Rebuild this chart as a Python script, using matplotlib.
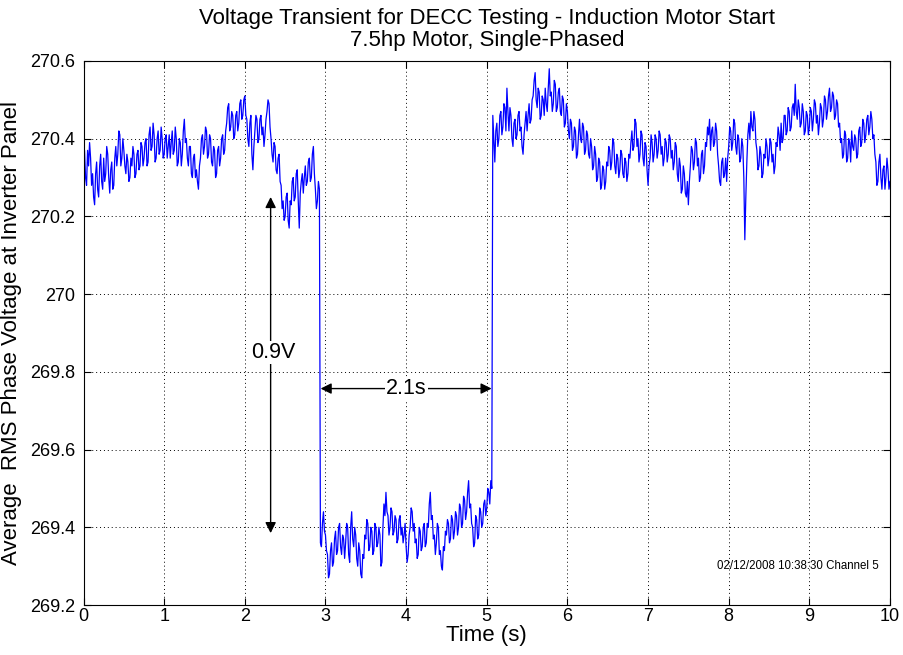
import numpy as np
import matplotlib
matplotlib.use("Agg")
import matplotlib.pyplot as plt

plt.rcParams['font.family'] = ['Liberation Sans', 'DejaVu Sans']

# RMS phase voltage sampled every 12.5 ms over the 10 s record (one row = 0.25 s)
dt = 0.0125
voltage = [
    270.34, 270.37, 270.30, 270.28, 270.37, 270.33, 270.39, 270.35, 270.28, 270.31, 270.25, 270.23, 270.31, 270.34, 270.27, 270.25, 270.33, 270.36, 270.29, 270.27,
    270.35, 270.29, 270.31, 270.38, 270.36, 270.30, 270.26, 270.32, 270.34, 270.27, 270.28, 270.35, 270.38, 270.33, 270.36, 270.42, 270.41, 270.33, 270.35, 270.40,
    270.37, 270.33, 270.31, 270.36, 270.34, 270.29, 270.30, 270.35, 270.33, 270.38, 270.36, 270.30, 270.31, 270.36, 270.37, 270.32, 270.33, 270.39, 270.38, 270.33,
    270.35, 270.39, 270.40, 270.33, 270.34, 270.41, 270.43, 270.37, 270.38, 270.44, 270.41, 270.34, 270.35, 270.40, 270.42, 270.36, 270.37, 270.43, 270.40, 270.35,
    270.36, 270.40, 270.41, 270.35, 270.38, 270.41, 270.35, 270.39, 270.42, 270.36, 270.37, 270.43, 270.40, 270.33, 270.34, 270.40, 270.39, 270.33, 270.36, 270.42,
    270.45, 270.39, 270.40, 270.35, 270.33, 270.38, 270.38, 270.31, 270.30, 270.35, 270.36, 270.30, 270.32, 270.29, 270.27, 270.33, 270.35, 270.40, 270.41, 270.36,
    270.38, 270.43, 270.42, 270.35, 270.36, 270.41, 270.40, 270.34, 270.33, 270.38, 270.37, 270.30, 270.31, 270.37, 270.38, 270.33, 270.35, 270.40, 270.41, 270.36,
    270.37, 270.42, 270.44, 270.48, 270.49, 270.42, 270.43, 270.47, 270.46, 270.40, 270.41, 270.46, 270.47, 270.42, 270.44, 270.49, 270.50, 270.45, 270.46, 270.50,
    270.51, 270.46, 270.45, 270.40, 270.38, 270.44, 270.46, 270.36, 270.32, 270.38, 270.42, 270.46, 270.45, 270.39, 270.40, 270.45, 270.46, 270.41, 270.43, 270.38,
    270.41, 270.45, 270.47, 270.50, 270.49, 270.43, 270.40, 270.36, 270.34, 270.39, 270.38, 270.32, 270.31, 270.35, 270.36, 270.29, 270.28, 270.22, 270.24, 270.19,
    270.20, 270.25, 270.26, 270.19, 270.17, 270.24, 270.23, 270.29, 270.30, 270.24, 270.25, 270.31, 270.32, 270.24, 270.17, 270.26, 270.29, 270.31, 270.26, 270.30,
    270.33, 270.28, 270.29, 270.34, 270.35, 270.29, 270.30, 270.36, 270.38, 270.31, 270.27, 270.22, 270.24, 270.29, 270.27, 269.36, 269.35, 269.41, 269.44, 269.39,
    269.38, 269.34, 269.33, 269.27, 269.28, 269.34, 269.36, 269.30, 269.31, 269.37, 269.39, 269.33, 269.34, 269.40, 269.41, 269.35, 269.33, 269.38, 269.37, 269.32,
    269.36, 269.41, 269.40, 269.33, 269.31, 269.40, 269.44, 269.37, 269.35, 269.40, 269.38, 269.32, 269.30, 269.36, 269.34, 269.28, 269.27, 269.33, 269.32, 269.38,
    269.37, 269.42, 269.41, 269.34, 269.35, 269.40, 269.39, 269.33, 269.34, 269.41, 269.40, 269.35, 269.36, 269.40, 269.38, 269.30, 269.31, 269.40, 269.46, 269.43,
    269.49, 269.44, 269.43, 269.38, 269.40, 269.45, 269.44, 269.38, 269.39, 269.43, 269.42, 269.36, 269.37, 269.42, 269.43, 269.38, 269.40, 269.36, 269.38, 269.41,
    269.35, 269.31, 269.33, 269.38, 269.40, 269.45, 269.44, 269.39, 269.41, 269.36, 269.37, 269.32, 269.33, 269.40, 269.39, 269.34, 269.35, 269.40, 269.41, 269.35,
    269.36, 269.41, 269.40, 269.46, 269.49, 269.42, 269.43, 269.37, 269.38, 269.33, 269.36, 269.41, 269.40, 269.33, 269.34, 269.30, 269.29, 269.35, 269.34, 269.39,
    269.38, 269.42, 269.41, 269.36, 269.37, 269.43, 269.42, 269.37, 269.39, 269.44, 269.43, 269.38, 269.40, 269.46, 269.45, 269.40, 269.41, 269.48, 269.47, 269.42,
    269.44, 269.49, 269.52, 269.45, 269.46, 269.41, 269.40, 269.35, 269.36, 269.43, 269.42, 269.37, 269.38, 269.45, 269.44, 269.40, 269.41, 269.46, 269.47, 269.43,
    269.45, 269.50, 269.49, 269.46, 269.52, 269.50, 270.46, 270.40, 270.34, 270.42, 270.44, 270.38, 270.40, 270.46, 270.47, 270.41, 270.43, 270.49, 270.48, 270.42,
    270.53, 270.47, 270.42, 270.48, 270.46, 270.40, 270.38, 270.44, 270.45, 270.40, 270.41, 270.46, 270.47, 270.42, 270.43, 270.38, 270.36, 270.41, 270.44, 270.47,
    270.42, 270.46, 270.49, 270.44, 270.45, 270.50, 270.51, 270.55, 270.57, 270.50, 270.48, 270.53, 270.52, 270.45, 270.46, 270.51, 270.50, 270.46, 270.53, 270.49,
    270.47, 270.53, 270.58, 270.51, 270.52, 270.47, 270.49, 270.55, 270.54, 270.47, 270.48, 270.52, 270.53, 270.47, 270.46, 270.51, 270.50, 270.43, 270.44, 270.49,
    270.47, 270.42, 270.40, 270.45, 270.44, 270.37, 270.38, 270.43, 270.42, 270.35, 270.36, 270.41, 270.45, 270.40, 270.39, 270.44, 270.43, 270.36, 270.37, 270.42,
    270.41, 270.36, 270.35, 270.40, 270.38, 270.32, 270.33, 270.38, 270.36, 270.29, 270.30, 270.35, 270.34, 270.27, 270.28, 270.33, 270.32, 270.27, 270.29, 270.34,
    270.33, 270.38, 270.37, 270.32, 270.34, 270.40, 270.39, 270.33, 270.31, 270.36, 270.35, 270.30, 270.32, 270.37, 270.36, 270.31, 270.30, 270.35, 270.34, 270.29,
    270.31, 270.36, 270.35, 270.39, 270.42, 270.37, 270.38, 270.45, 270.44, 270.38, 270.40, 270.34, 270.36, 270.42, 270.41, 270.35, 270.33, 270.39, 270.38, 270.32,
    270.28, 270.33, 270.35, 270.41, 270.39, 270.34, 270.36, 270.41, 270.40, 270.35, 270.37, 270.42, 270.41, 270.36, 270.38, 270.33, 270.35, 270.40, 270.39, 270.34,
    270.36, 270.41, 270.40, 270.35, 270.37, 270.32, 270.34, 270.39, 270.38, 270.31, 270.29, 270.35, 270.33, 270.26, 270.27, 270.33, 270.31, 270.26, 270.25, 270.29,
    270.23, 270.29, 270.33, 270.38, 270.37, 270.32, 270.34, 270.40, 270.39, 270.33, 270.35, 270.29, 270.30, 270.36, 270.37, 270.31, 270.33, 270.39, 270.38, 270.43,
    270.41, 270.45, 270.37, 270.42, 270.43, 270.38, 270.39, 270.44, 270.42, 270.36, 270.33, 270.29, 270.28, 270.34, 270.35, 270.30, 270.31, 270.35, 270.29, 270.35,
    270.38, 270.43, 270.42, 270.37, 270.39, 270.45, 270.44, 270.38, 270.36, 270.41, 270.40, 270.34, 270.35, 270.40, 270.38, 270.30, 270.14, 270.25, 270.34, 270.41,
    270.44, 270.40, 270.47, 270.43, 270.42, 270.47, 270.45, 270.39, 270.37, 270.32, 270.33, 270.38, 270.36, 270.30, 270.31, 270.36, 270.35, 270.40, 270.38, 270.33,
    270.35, 270.40, 270.39, 270.34, 270.36, 270.31, 270.33, 270.39, 270.38, 270.43, 270.41, 270.37, 270.44, 270.39, 270.40, 270.46, 270.46, 270.41, 270.42, 270.48,
    270.47, 270.42, 270.43, 270.48, 270.49, 270.46, 270.54, 270.47, 270.45, 270.50, 270.48, 270.43, 270.44, 270.49, 270.47, 270.41, 270.42, 270.47, 270.46, 270.41,
    270.43, 270.48, 270.47, 270.42, 270.45, 270.50, 270.49, 270.44, 270.46, 270.41, 270.44, 270.49, 270.48, 270.43, 270.45, 270.51, 270.50, 270.45, 270.47, 270.51,
    270.53, 270.47, 270.48, 270.52, 270.51, 270.45, 270.46, 270.50, 270.49, 270.43, 270.44, 270.39, 270.40, 270.35, 270.36, 270.42, 270.41, 270.34, 270.35, 270.40,
    270.39, 270.34, 270.42, 270.38, 270.37, 270.41, 270.40, 270.35, 270.36, 270.42, 270.43, 270.38, 270.39, 270.45, 270.44, 270.39, 270.41, 270.45, 270.46, 270.41,
    270.43, 270.47, 270.45, 270.40, 270.41, 270.36, 270.34, 270.28, 270.29, 270.34, 270.36, 270.30, 270.27, 270.32, 270.33, 270.27, 270.30, 270.35, 270.32, 270.27,
    270.29,
]
time = np.arange(len(voltage)) * dt

x_ticks = [0, 1, 2, 3, 4, 5, 6, 7, 8, 9, 10]
y_ticks = [269.2, 269.4, 269.6, 269.8, 270.0, 270.2, 270.4, 270.6]
y_tick_labels = ["269.2", "269.4", "269.6", "269.8", "270", "270.2", "270.4", "270.6"]

# Annotation values
drop_span = (270.25, 269.385)   # voltage drop arrow ends
drop_time = 2.32
sag_window = (2.94, 5.06)       # duration arrow ends
sag_level = 269.757

fig = plt.figure(figsize=(9.04, 6.55), dpi=100)
ax = fig.add_axes([0.0924, 0.0763, 0.8921, 0.8306])

ax.plot(time, voltage, color=(0, 0, 1), lw=0.9)

ax.set_xlim(0, 10)
ax.set_ylim(269.2, 270.6)
ax.set_xticks(x_ticks)
ax.set_xticklabels([str(v) for v in x_ticks])
ax.set_yticks(y_ticks)
ax.set_yticklabels(y_tick_labels)
ax.tick_params(direction='in', top=True, right=True, length=5, width=0.8,
               labelsize=13, colors='black')
ax.tick_params(axis='y', pad=6)
ax.tick_params(axis='x', pad=2)
ax.grid(True, linestyle=(0, (1, 3)), color='black', lw=0.7)
for s in ax.spines.values():
    s.set_color('black')
    s.set_linewidth(0.8)

ax.set_xlabel("Time (s)", fontsize=16, labelpad=0)
ax.set_ylabel("Average  RMS Phase Voltage at Inverter Panel", fontsize=16, labelpad=6)
ax.set_title("Voltage Transient for DECC Testing - Induction Motor Start\n7.5hp Motor, Single-Phased",
             fontsize=16, pad=11, linespacing=1.05)

arrow = dict(arrowstyle='<|-|>', color='black', lw=1.0, mutation_scale=16,
             shrinkA=0, shrinkB=0)
ax.annotate("", xy=(drop_time, drop_span[0]), xytext=(drop_time, drop_span[1]),
            arrowprops=arrow)
ax.text(drop_time + 0.03, 269.85, "0.9V", fontsize=15.5, ha='center', va='center',
        bbox=dict(facecolor='white', edgecolor='none', pad=1))
ax.annotate("", xy=(sag_window[0], sag_level), xytext=(sag_window[1], sag_level),
            arrowprops=arrow)
ax.text(sum(sag_window) / 2, sag_level, "2.1s", fontsize=15.5, ha='center', va='center',
        bbox=dict(facecolor='white', edgecolor='none', pad=1))

ax.text(9.86, 269.30, "02/12/2008 10:38:30 Channel 5", fontsize=8.3, ha='right', va='center')

fig.savefig("out.png", dpi=100, facecolor='white')
